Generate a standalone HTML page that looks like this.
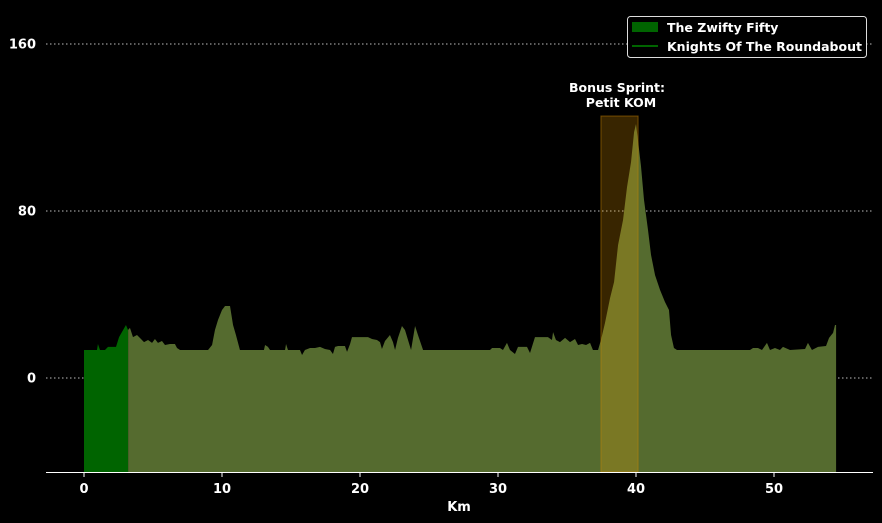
<!DOCTYPE html>
<html><head><meta charset="utf-8"><style>
html,body{margin:0;padding:0;background:#000;}
svg{display:block;font-family:"DejaVu Sans","Liberation Sans",sans-serif;}
</style></head><body>
<svg id="chart" width="882" height="523" viewBox="0 0 882 523">
<rect x="0" y="0" width="882" height="523" fill="#000"/>
<g id="grid"></g>
<g id="marks"></g>
<g id="axes"></g>
<g>
<rect x="627.5" y="16.5" width="239" height="41" rx="3" fill="#000" stroke="#ddd" stroke-width="1"/>
<rect x="632" y="22" width="26" height="10" fill="#006400"/>
<text x="667" y="32" fill="#fff" font-size="12.5" font-weight="bold">The Zwifty Fifty</text>
<line x1="632" y1="46" x2="658" y2="46" stroke="#006400" stroke-width="2"/>
<text x="667" y="51" fill="#fff" font-size="12.5" font-weight="bold">Knights Of The Roundabout</text>
</g>
<text x="617" y="92" fill="#fff" font-size="12.5" font-weight="bold" text-anchor="middle">Bonus Sprint:</text>
<text x="621" y="107" fill="#fff" font-size="12.5" font-weight="bold" text-anchor="middle">Petit KOM</text>
</svg>
<script>
const distanceKm=[0,0.94,1.01,1.16,1.52,1.74,2.32,2.54,3.04,3.19,3.33,3.55,3.84,4.13,4.35,4.64,4.93,5.14,5.36,5.65,5.87,6.23,6.59,6.74,6.96,8.99,9.28,9.49,9.71,10.0,10.22,10.58,10.8,11.01,11.3,13.04,13.12,13.33,13.48,14.57,14.64,14.78,15.65,15.8,16.01,16.38,16.74,17.1,17.46,17.83,18.04,18.19,18.41,18.91,19.06,19.28,19.42,20.58,20.87,21.23,21.45,21.59,21.81,22.17,22.39,22.54,22.75,23.04,23.26,23.48,23.7,23.99,24.2,24.57,29.42,29.57,30.14,30.36,30.65,30.87,31.23,31.45,32.1,32.32,32.68,33.62,33.91,33.99,34.2,34.49,34.86,35.22,35.58,35.8,36.09,36.38,36.67,36.88,37.25,37.46,37.75,38.12,38.41,38.7,39.06,39.35,39.64,39.86,40.0,40.14,40.36,40.58,40.87,41.09,41.38,41.74,42.1,42.39,42.54,42.75,42.97,48.26,48.48,48.84,49.13,49.49,49.71,50.07,50.43,50.65,51.16,52.25,52.46,52.75,53.19,53.77,53.99,54.28,54.42,54.5];
const elevation=[13.4,13.4,16.3,13.4,13.4,14.9,14.9,19.6,25.4,23.0,24.0,19.6,20.6,18.7,17.2,18.2,16.8,18.7,16.8,17.7,15.8,16.3,16.3,14.4,13.4,13.4,15.8,23.0,27.8,32.6,34.5,34.5,25.4,20.6,13.4,13.4,15.8,14.9,13.4,13.4,16.3,13.4,13.4,11.0,13.4,14.4,14.4,14.9,13.9,13.4,11.5,14.9,15.3,15.3,12.5,16.3,19.6,19.6,18.7,18.2,17.2,13.9,17.7,20.6,17.2,13.4,19.2,24.9,23.0,18.2,13.4,24.9,20.6,13.4,13.4,14.4,14.4,13.4,16.8,13.4,11.5,14.9,14.9,12.0,19.6,19.6,18.2,22.0,18.2,17.2,19.2,17.2,18.7,15.8,16.3,15.8,16.8,13.4,13.4,18.2,26.3,38.3,46.0,63.7,75.7,91.5,103.5,117.8,121.7,114.0,101.6,85.3,70.9,58.9,49.3,42.2,36.4,32.6,20.6,14.4,13.4,13.4,14.4,14.4,13.4,16.8,13.4,14.4,13.4,14.9,13.4,13.9,16.8,13.4,14.9,15.3,19.2,21.6,25.4,25.4];
const segStart=[0,3.2];
const segEnd=[3.2,54.5];
const segNames=['zwifty-fifty-segment','knights-segment'];
const sprintStartKm=37.46, sprintEndKm=40.15, sprintTop=125.5;
const xTicks=[0,10,20,30,40,50];
const yTicks=[0,80,160];

const X=v=>84+v*13.8;
const Y=v=>378-v*2.0875;
const BOTTOM=472;
const NS='http://www.w3.org/2000/svg';
function mk(tag,attrs,parent){const e=document.createElementNS(NS,tag);for(const k in attrs)e.setAttribute(k,attrs[k]);parent.appendChild(e);return e;}
const grid=document.getElementById('grid'),marks=document.getElementById('marks'),axes=document.getElementById('axes');

yTicks.forEach(t=>{
  const l=mk('line',{x1:46,x2:873,y1:Y(t),y2:Y(t),stroke:'#bbb','stroke-width':1,'stroke-dasharray':'1.5,2.5'},grid);
  
  
  const tx=mk('text',{x:36,y:Y(t)+4.5,fill:'#fff','font-size':13,'font-weight':'bold','text-anchor':'end'},axes);
  tx.textContent=t;
  
  
});

function elevAt(k){
  for(let i=0;i<distanceKm.length-1;i++){
    if(k>=distanceKm[i]&&k<=distanceKm[i+1]){const f=(k-distanceKm[i])/((distanceKm[i+1]-distanceKm[i])||1);return elevation[i]+f*(elevation[i+1]-elevation[i]);}
  }
  return elevation[elevation.length-1];
}
function areaPath(a,b){
  let d='M'+X(a)+','+BOTTOM+' L'+X(a)+','+Y(elevAt(a));
  for(let i=0;i<distanceKm.length;i++){if(distanceKm[i]>a&&distanceKm[i]<b)d+=' L'+X(distanceKm[i])+','+Y(elevation[i]);}
  d+=' L'+X(b)+','+Y(elevAt(b))+' L'+X(b)+','+BOTTOM+' Z';
  return d;
}
const cols=['#006400','#556b2f'];
segStart.forEach((s,i)=>{
  const p=mk('path',{d:areaPath(s,segEnd[i]),fill:cols[i]},marks);
  
  
});
const sr=mk('rect',{x:X(sprintStartKm),y:Y(sprintTop),width:X(sprintEndKm)-X(sprintStartKm),height:BOTTOM-Y(sprintTop),fill:'rgba(255,170,0,0.22)',stroke:'rgba(200,130,0,0.5)','stroke-width':1},marks);



const ax=mk('line',{x1:46,x2:873,y1:BOTTOM+0.5,y2:BOTTOM+0.5,stroke:'#fff','stroke-width':1},axes);


xTicks.forEach(t=>{
  const tk=mk('line',{x1:X(t),x2:X(t),y1:BOTTOM,y2:BOTTOM+5,stroke:'#fff'},axes);
  
  
  const tx=mk('text',{x:X(t),y:493,fill:'#fff','font-size':13,'font-weight':'bold','text-anchor':'middle'},axes);
  tx.textContent=t;
  
  
});
const xt=mk('text',{x:459,y:511,fill:'#fff','font-size':13,'font-weight':'bold','text-anchor':'middle'},axes);
xt.textContent='Km';


</script>
</body></html>
